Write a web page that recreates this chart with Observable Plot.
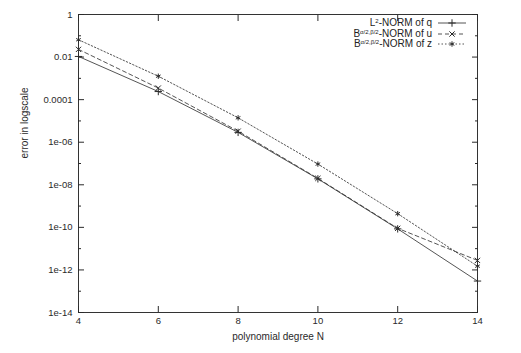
<!DOCTYPE html>
<html>
<head>
<meta charset="utf-8">
<script src="https://cdn.jsdelivr.net/npm/d3@7"></script>
<script src="https://cdn.jsdelivr.net/npm/@observablehq/plot@0.6"></script>
<style>
  html, body { margin: 0; padding: 0; background: #fff; }
  #wrap { position: relative; width: 521px; height: 353px; font-family: "Liberation Sans", Arial, sans-serif; color: #222; }
  #legend { position: absolute; top: 18px; right: 55px; font-size: 10px; line-height: 10px; }
  .row { display: flex; justify-content: flex-end; align-items: center; height: 10.5px; }
  .row span.t { text-align: right; white-space: nowrap; }
  sup { font-size: 6px; line-height: 0; vertical-align: 3px; }
  .row svg { margin-left: 6px; display: block; }
</style>
</head>
<body>
<div id="wrap">
  <div id="chart"></div>
  <div id="legend"></div>
</div>
<script>
const degrees = [4, 6, 8, 10, 12, 14];
const errQ = [1.07e-2, 2.4e-4, 2.9e-6, 1.9e-8, 8.5e-11, 3.0e-13];
const errU = [2.3e-2, 3.5e-4, 3.3e-6, 2.0e-8, 9.0e-11, 2.8e-12];
const errZ = [6.5e-2, 1.26e-3, 1.4e-5, 9.4e-8, 4.4e-10, 1.5e-12];

const yMajor = [1, 1e-2, 1e-4, 1e-6, 1e-8, 1e-10, 1e-12, 1e-14];
const yMajorLabels = ["1", "0.01", "0.0001", "1e-06", "1e-08", "1e-10", "1e-12", "1e-14"];
const yMinor = [1e-1, 1e-3, 1e-5, 1e-7, 1e-9, 1e-11, 1e-13];
const xTicks = [4, 6, 8, 10, 12, 14];

const xLabel = "polynomial degree N";
const yLabel = "error in logscale";

const seriesNames = ["q", "u", "z"];
const seriesLegend = [
  {pre: "L", sup: "2", post: "-NORM of q"},
  {pre: "B", sup: "\u03b1/2,\u03b2/2", post: "-NORM of u"},
  {pre: "B", sup: "\u03b1/2,\u03b2/2", post: "-NORM of z"}
];
const seriesDash = [null, "4,3", "1.5,2"];
const seriesSymbol = ["plus", "times", "asterisk"];

const rows = degrees.map((n, i) => ({n, q: errQ[i], u: errU[i], z: errZ[i]}));
const ink = "#2a2a2a";

const seriesMarks = seriesNames.flatMap((s, k) => [
  Plot.line(rows, {x: "n", y: s, stroke: ink, strokeWidth: 0.8, strokeDasharray: seriesDash[k]}),
  Plot.dot(rows, {x: "n", y: s, symbol: () => seriesSymbol[k], r: 2.5, stroke: ink, strokeWidth: 1, fill: "none"})
]);

const chart = Plot.plot({
  width: 521,
  height: 353,
  marginLeft: 78,
  marginRight: 44,
  marginTop: 14,
  marginBottom: 41,
  style: {fontFamily: "'Liberation Sans', Arial, sans-serif", fontSize: "9.5px", color: ink, background: "white"},
  x: {domain: [4, 14]},
  y: {type: "log", domain: [1e-14, 1]},
  symbol: {type: "identity"},
  marks: [
    Plot.frame({stroke: "#333"}),
    Plot.axisY(yMajor, {anchor: "left", tickSize: -6, tickPadding: 12, tickFormat: d => yMajorLabels[yMajor.indexOf(d)], label: null}),
    Plot.axisY(yMinor, {anchor: "left", tickSize: -3, tickFormat: () => "", label: null}),
    Plot.axisY(yMajor, {anchor: "right", tickSize: -6, tickFormat: () => "", label: null}),
    Plot.axisY(yMinor, {anchor: "right", tickSize: -3, tickFormat: () => "", label: null}),
    Plot.axisX(xTicks, {anchor: "bottom", tickSize: -6, tickPadding: 11, tickFormat: d => String(d), label: null}),
    Plot.axisX(xTicks, {anchor: "top", tickSize: -6, tickFormat: () => "", label: null}),
    Plot.text([xLabel], {text: d => d, frameAnchor: "bottom", dy: 27, fontSize: 10}),
    Plot.text([yLabel], {text: d => d, frameAnchor: "left", dx: -54, dy: -5, rotate: -90, fontSize: 10}),
    ...seriesMarks
  ]
});
document.getElementById("chart").appendChild(chart);

// legend
const legend = document.getElementById("legend");
const symPath = {
  plus: d3.symbol(d3.symbolPlus, 20)(),
  times: d3.symbol(d3.symbolTimes, 20)(),
  asterisk: d3.symbol(d3.symbolAsterisk, 20)()
};
seriesLegend.forEach((lg, k) => {
  const row = document.createElement("div");
  row.className = "row";
  const t = document.createElement("span");
  t.className = "t";
  t.appendChild(document.createTextNode(lg.pre));
  const sp = document.createElement("sup");
  sp.textContent = lg.sup;
  t.appendChild(sp);
  t.appendChild(document.createTextNode(lg.post));
  row.appendChild(t);
  const svgNS = "http://www.w3.org/2000/svg";
  const svg = document.createElementNS(svgNS, "svg");
  svg.setAttribute("width", 28);
  svg.setAttribute("height", 10);
  const ln = document.createElementNS(svgNS, "line");
  ln.setAttribute("x1", 0); ln.setAttribute("x2", 28);
  ln.setAttribute("y1", 5); ln.setAttribute("y2", 5);
  ln.setAttribute("stroke", ink); ln.setAttribute("stroke-width", 0.8);
  if (seriesDash[k]) ln.setAttribute("stroke-dasharray", seriesDash[k]);
  svg.appendChild(ln);
  const p = document.createElementNS(svgNS, "path");
  p.setAttribute("d", symPath[seriesSymbol[k]]);
  p.setAttribute("transform", "translate(14,5)");
  p.setAttribute("fill", "none");
  p.setAttribute("stroke", ink);
  svg.appendChild(p);
  row.appendChild(svg);
  legend.appendChild(row);
});
</script>
</body>
</html>
